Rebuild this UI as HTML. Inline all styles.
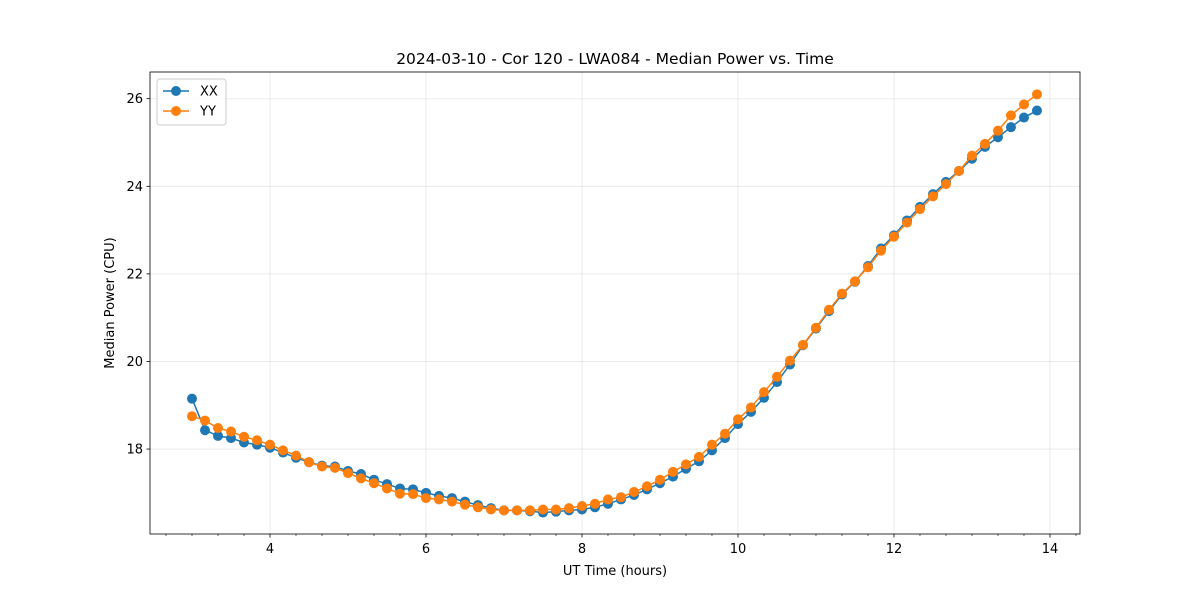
<!DOCTYPE html>
<html><head><meta charset="utf-8"><style>
body{margin:0;background:#fff;font-family:"Liberation Sans","DejaVu Sans",sans-serif}
</style></head><body>
<svg id="c" width="1200" height="600" xmlns="http://www.w3.org/2000/svg" font-family="DejaVu Sans, Liberation Sans, sans-serif"></svg>
<script>
const xxValues=[19.15,18.43,18.3,18.25,18.15,18.1,18.03,17.92,17.8,17.7,17.62,17.6,17.5,17.43,17.3,17.2,17.1,17.08,17.0,16.93,16.88,16.8,16.72,16.65,16.6,16.6,16.58,16.55,16.57,16.6,16.62,16.67,16.75,16.85,16.95,17.08,17.22,17.37,17.55,17.72,17.97,18.25,18.57,18.85,19.17,19.53,19.93,20.37,20.75,21.15,21.53,21.82,22.18,22.58,22.88,23.22,23.53,23.82,24.1,24.35,24.63,24.9,25.12,25.35,25.57,25.73];
const yyValues=[18.75,18.65,18.48,18.4,18.28,18.2,18.1,17.97,17.85,17.7,17.6,17.57,17.45,17.33,17.22,17.1,16.98,16.97,16.88,16.85,16.8,16.73,16.67,16.62,16.6,16.6,16.6,16.62,16.62,16.65,16.7,16.75,16.85,16.9,17.02,17.15,17.3,17.48,17.65,17.82,18.1,18.35,18.68,18.95,19.3,19.65,20.02,20.38,20.77,21.18,21.55,21.83,22.15,22.53,22.85,23.17,23.48,23.77,24.05,24.35,24.7,24.97,25.27,25.62,25.87,26.1];
const timeStart=3, timeStep=1/6;
const xTicks=[4,6,8,10,12,14];
const yTicks=[18,20,22,24,26];
const L=150,R=1080,T=72,B=534;
const x0=2.4615,x1=14.385,y0=16.06,y1=26.61;
const sx=v=>L+(v-x0)/(x1-x0)*(R-L);
const sy=v=>B-(v-y0)/(y1-y0)*(B-T);
const svg=document.getElementById('c');
const NS='http://www.w3.org/2000/svg';
function mk(t,a,txt){const e=document.createElementNS(NS,t);for(const k in a)e.setAttribute(k,a[k]);if(txt!=null)e.textContent=txt;svg.appendChild(e);return e;}
let e;
xTicks.forEach(t=>{
 e=mk('line',{x1:sx(t),x2:sx(t),y1:T,y2:B,stroke:'#b0b0b0','stroke-opacity':0.3,'stroke-width':0.8});
 
 e=mk('line',{x1:sx(t),x2:sx(t),y1:B,y2:B+3.5,stroke:'#000','stroke-width':0.8});
 
 e=mk('text',{x:sx(t),y:B+19,'text-anchor':'middle','font-size':13},String(t));
 
});
for(let m=Math.ceil(x0*3);m/3<=x1;m++){if(m%6===0)continue;const v=m/3;
 e=mk('line',{x1:sx(v),x2:sx(v),y1:B,y2:B+2,stroke:'#000','stroke-width':0.6});
 }
yTicks.forEach(t=>{
 e=mk('line',{x1:L,x2:R,y1:sy(t),y2:sy(t),stroke:'#b0b0b0','stroke-opacity':0.3,'stroke-width':0.8});
 
 e=mk('line',{x1:L-3.5,x2:L,y1:sy(t),y2:sy(t),stroke:'#000','stroke-width':0.8});
 
 e=mk('text',{x:L-7,y:sy(t)+4.5,'text-anchor':'end','font-size':13},String(t));
 
});
function series(vals,color,name){
 const pts=vals.map((v,i)=>sx(timeStart+i*timeStep)+','+sy(v)).join(' ');
 e=mk('polyline',{points:pts,fill:'none',stroke:color,'stroke-width':1.5});
 
 vals.forEach((v,i)=>{e=mk('circle',{cx:sx(timeStart+i*timeStep),cy:sy(v),r:5,fill:color});
 });
}
series(xxValues,'#1f77b4','xx');
series(yyValues,'#ff7f0e','yy');
e=mk('rect',{x:L,y:T,width:R-L,height:B-T,fill:'none',stroke:'#000','stroke-width':0.8});

e=mk('text',{x:(L+R)/2,y:64,'text-anchor':'middle','font-size':15.5},'2024-03-10 - Cor 120 - LWA084 - Median Power vs. Time');

e=mk('text',{x:(L+R)/2,y:575,'text-anchor':'middle','font-size':13},'UT Time (hours)');

e=mk('text',{x:114,y:(T+B)/2,'text-anchor':'middle','font-size':13,transform:'rotate(-90 114 '+((T+B)/2)+')'},'Median Power (CPU)');

e=mk('rect',{x:157,y:79,width:69,height:46,rx:3,fill:'#fff','fill-opacity':0.8,stroke:'#ccc','stroke-width':1});

[['XX','#1f77b4',91],['YY','#ff7f0e',111]].forEach(([n,c,y])=>{
 e=mk('line',{x1:163,x2:189,y1:y,y2:y,stroke:c,'stroke-width':1.5});
 
 e=mk('circle',{cx:176,cy:y,r:5,fill:c});
 
 e=mk('text',{x:200,y:y+4.5,'font-size':13},n);
 
});
</script>
</body></html>
